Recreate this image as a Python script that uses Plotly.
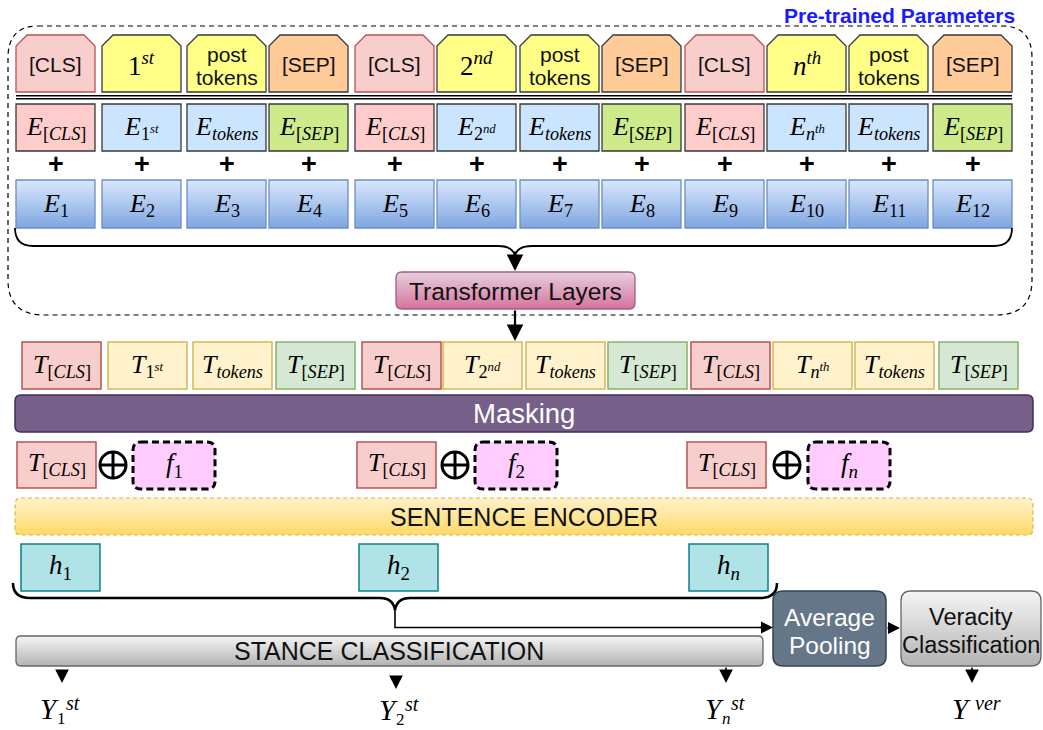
import math
import plotly.graph_objects as go

# ---------------- content (labels of the diagram) ----------------
TOKEN_KINDS = ["CLS", "ORD", "POST", "SEP"] * 3
SEGMENT_BASE = ["1", "2", "<i>n</i>"]
SEGMENT_SUFFIX = ["st", "nd", "th"]
TAG_TEXT = {"CLS": "[CLS]", "POST": "post<br>tokens", "SEP": "[SEP]"}
TOKEN_SUB = {"CLS": "[<i>CLS</i>]", "POST": "<i>tokens</i>", "SEP": "[<i>SEP</i>]"}
POSITION_IDS = [str(i) for i in range(1, 13)]
FEATURE_IDS = ["1", "2", "<i>n</i>"]
STANCE_IDS = ["1", "2", "<i>n</i>"]
PANEL_TITLE = "Pre-trained Parameters"
TRANSFORMER_LABEL = "Transformer Layers"
MASKING_LABEL = "Masking"
ENCODER_LABEL = "SENTENCE ENCODER"
STANCE_LABEL = "STANCE CLASSIFICATION"
POOLING_LABEL = ["Average", "Pooling"]
VERACITY_LABEL = ["Veracity", "Classification"]

# ---------------- styling ----------------
SANS = "Liberation Sans, Arial, sans-serif"
SERIF = "Liberation Serif, Times New Roman, serif"
TAG_STYLE = {"CLS": ("#f8cecc", "#b85450"), "ORD": ("#ffff88", "#36393d"),
             "POST": ("#ffff88", "#36393d"), "SEP": ("#ffcc99", "#36393d")}
EMB_STYLE = {"CLS": ("#ffcccc", "#36393d"), "ORD": ("#cce5ff", "#36393d"),
             "POST": ("#cce5ff", "#36393d"), "SEP": ("#cdeb8b", "#36393d")}
T_STYLE = {"CLS": ("#f8cecc", "#b85450"), "ORD": ("#fff2cc", "#d6b656"),
           "POST": ("#fff2cc", "#d6b656"), "SEP": ("#d5e8d4", "#82b366")}

W, H = 1043, 730
fig = go.Figure()
shapes = []
annots = []


def hex2rgb(c):
    c = c.lstrip("#")
    return [int(c[i:i + 2], 16) for i in (0, 2, 4)]


def lerp(c0, c1, t):
    a, b = hex2rgb(c0), hex2rgb(c1)
    return "rgb(%d,%d,%d)" % tuple(round(a[i] + (b[i] - a[i]) * t) for i in range(3))


def rr_path(x0, y0, x1, y1, r):
    if r <= 0:
        return f"M{x0},{y0} L{x1},{y0} L{x1},{y1} L{x0},{y1} Z"
    return (f"M{x0 + r},{y0} L{x1 - r},{y0} Q{x1},{y0} {x1},{y0 + r} "
            f"L{x1},{y1 - r} Q{x1},{y1} {x1 - r},{y1} L{x0 + r},{y1} "
            f"Q{x0},{y1} {x0},{y1 - r} L{x0},{y0 + r} Q{x0},{y0} {x0 + r},{y0} Z")


def box(x0, y0, x1, y1, fill, line, lw=1.3, r=0, dash=None):
    ld = dict(color=line, width=lw)
    if dash:
        ld["dash"] = dash
    shapes.append(dict(type="path", path=rr_path(x0, y0, x1, y1, r),
                       fillcolor=fill, line=ld, xref="x", yref="y"))


def grad_box(x0, y0, x1, y1, c0, c1, line, lw=1.3, r=0, n=20, dash=None):
    h = (y1 - y0) / n
    for i in range(n):
        ya = y0 + i * h
        yb = ya + h
        ym = (ya + yb) / 2
        d = 0
        if r > 0:
            if ym < y0 + r:
                dy = y0 + r - ym
                d = r - math.sqrt(max(r * r - dy * dy, 0))
            elif ym > y1 - r:
                dy = ym - (y1 - r)
                d = r - math.sqrt(max(r * r - dy * dy, 0))
        shapes.append(dict(type="rect", x0=x0 + d, x1=x1 - d, y0=ya, y1=min(yb + 1.2, y1),
                           fillcolor=lerp(c0, c1, (i + 0.5) / n), line=dict(width=0),
                           xref="x", yref="y", layer="above"))
    box(x0, y0, x1, y1, "rgba(0,0,0,0)", line, lw, r, dash)


def path(p, color="#000", lw=1.5, dash=None, fill="rgba(0,0,0,0)"):
    ld = dict(color=color, width=lw)
    if dash:
        ld["dash"] = dash
    shapes.append(dict(type="path", path=p, line=ld, fillcolor=fill, xref="x", yref="y"))


def text(x, y, s, size, color="#000", family=SANS, xanchor="center", yanchor="middle"):
    annots.append(dict(x=x, y=y, text=s, showarrow=False, xref="x", yref="y",
                       xanchor=xanchor, yanchor=yanchor,
                       font=dict(size=size, color=color, family=family)))


def arrow(xt, yt, xh, yh, lw=1.6, size=1.0, head=2):
    annots.append(dict(x=xh, y=yh, ax=xt, ay=yt, xref="x", yref="y", axref="x", ayref="y",
                       text="", showarrow=True, arrowhead=head, arrowsize=size,
                       arrowwidth=lw, arrowcolor="#000", standoff=0, startstandoff=0))


# ---------------- layout geometry ----------------
COL_X = [16, 102, 187, 269, 355, 437, 520, 602, 685, 767, 849, 933]
T_X = [22, 108, 193, 276, 362, 443, 526, 608, 691, 773, 855, 939]
CW = 79
MATH = 26

# dashed pre-trained panel
path("M38,26 L1002,26 Q1032,26 1032,58 L1032,280 Q1032,315 996,315 "
     "L44,315 Q8,315 8,280 L8,58 Q8,26 38,26 Z", color="#000", lw=1.2, dash="5px,4px")
text(1017, 15, f"<b>{PANEL_TITLE}</b>", 21, color="#1a1aff", xanchor="right")

seg = -1
for i, kind in enumerate(TOKEN_KINDS):
    if kind == "CLS":
        seg += 1
    x0 = COL_X[i]
    x1 = x0 + CW
    xc = (x0 + x1) / 2
    # chamfered tag
    fill, line = TAG_STYLE[kind]
    c = 11
    path(f"M{x0},92 L{x0},{35 + c} L{x0 + c},35 L{x1 - c},35 L{x1},{35 + c} L{x1},92 Z",
         color=line, lw=1.3, fill=fill)
    if kind == "ORD":
        text(xc, 64, f"{SEGMENT_BASE[seg]}<sup><i>{SEGMENT_SUFFIX[seg]}</i></sup>", 27,
             family=SERIF)
    elif kind == "POST":
        text(xc, 54, "post", 21, color="#111")
        text(xc, 77, "tokens", 21, color="#111")
    else:
        text(xc, 64, TAG_TEXT[kind], 21, color="#111")

    # token embedding
    fill, line = EMB_STYLE[kind]
    box(x0, 104, x1, 151, fill, line, 1.3)
    if kind == "ORD":
        sub = f"{SEGMENT_BASE[seg]}<sup><i>{SEGMENT_SUFFIX[seg]}</i></sup>"
    else:
        sub = TOKEN_SUB[kind]
    text(xc, 128, f"<i>E</i><sub>{sub}</sub>", MATH, family=SERIF)

    # plus
    text(xc, 164, "<b>+</b>", 27, family=SANS)

    # position embedding
    grad_box(x0, 180, x1, 228, "#dae8fc", "#7ea6e0", "#6c8ebf", 1.3)
    text(xc, 205, f"<i>E</i><sub>{POSITION_IDS[i]}</sub>", MATH, family=SERIF)

    # transformer outputs
    tx0 = T_X[i]
    fill, line = T_STYLE[kind]
    box(tx0, 342, tx0 + CW, 389, fill, line, 1.5)
    text(tx0 + CW / 2, 366, f"<i>T</i><sub>{sub}</sub>", MATH, family=SERIF)

# double separator line
path("M16,95.8 L1012,95.8", lw=1.6)
path("M16,98.8 L1012,98.8", lw=1.6)

# brace under embeddings + arrow into transformer
path("M15,228 Q15,246 33,246 L498,246 Q513,246 515,256 Q517,246 532,246 "
     "L994,246 Q1012,246 1012,228", lw=1.8)
arrow(515, 250, 515, 271, lw=2.2, size=1.5)

grad_box(396, 272, 635, 309, "#e6d0de", "#d5739d", "#996185", 1.3, r=6)
text(515, 291, TRANSFORMER_LABEL, 24.5, color="#111")
arrow(515, 309, 515, 341, lw=2.2, size=1.5)

# masking bar
box(15, 395, 1033, 432, "#76608a", "#432d57", 1.5, r=6)
text(524, 413, MASKING_LABEL, 27.5, color="#ffffff")

# [CLS] + feature concatenation
for k, (tx, cx, fx) in enumerate([(17, 113, 133), (357, 455, 475), (687, 787, 808)]):
    box(tx, 442, tx + 79, 488, "#f8cecc", "#b85450", 1.5)
    text(tx + 39.5, 464, "<i>T</i><sub>[<i>CLS</i>]</sub>", MATH, family=SERIF)
    shapes.append(dict(type="circle", x0=cx - 13, x1=cx + 13, y0=452, y1=478,
                       line=dict(color="#000", width=3), xref="x", yref="y"))
    path(f"M{cx - 13},465 L{cx + 13},465", lw=3)
    path(f"M{cx},452 L{cx},478", lw=3)
    box(fx, 442, fx + 82, 489, "#ffccff", "#000", 3, r=8, dash="7px,4px")
    text(fx + 41, 465, f"<i>f</i><sub>{FEATURE_IDS[k]}</sub>", 27, family=SERIF)

# sentence encoder
grad_box(15, 498, 1033, 535, "#fff2cc", "#ffd966", "#d6b656", 1.2, r=6, dash="4px,3px")
text(524, 517, ENCODER_LABEL, 25, color="#111")

# sentence representations
for k, hx in enumerate([21, 359, 689]):
    box(hx, 544, hx + 79, 591, "#b0e3e6", "#0e8088", 1.5)
    text(hx + 39.5, 567, f"<i>h</i><sub>{FEATURE_IDS[k]}</sub>", 27, family=SERIF)

# brace under h + connector to pooling
path("M13,583 Q13,598 30,598 L380,598 Q393,598 395,610 Q397,598 410,598 "
     "L760,598 Q777,598 777,583", lw=2.6)
path("M395,606 L395,627.5 L762,627.5", lw=1.6)
arrow(758, 627.5, 773, 627.5, lw=1.6, size=1.5)

# stance classification
grad_box(16, 636, 763, 666, "#f5f5f5", "#b3b3b3", "#666666", 1.3, r=5)
text(389, 651, STANCE_LABEL, 25, color="#111")

# average pooling & veracity
box(773, 591, 886, 666, "#647687", "#314354", 1.5, r=10)
text(829.5, 617, POOLING_LABEL[0], 24.5, color="#ffffff")
text(829.5, 645, POOLING_LABEL[1], 24.5, color="#ffffff")
arrow(886, 628, 900, 628, lw=1.6, size=1.5)
grad_box(901, 591, 1041, 666, "#f5f5f5", "#b3b3b3", "#666666", 1.3, r=10)
text(971, 617, VERACITY_LABEL[0], 23.5, color="#111")
text(971, 645, VERACITY_LABEL[1], 23.5, color="#111")

# outputs
arrow(62, 669, 62, 683, lw=1.6, size=1.7)
arrow(396, 675, 396, 689, lw=1.6, size=1.7)
arrow(726, 666, 726, 683, lw=1.6, size=1.7)
arrow(972, 666, 972, 683, lw=1.6, size=1.7)

for k, (yx, yy) in enumerate([(49, 709), (388, 710), (714, 709)]):
    text(yx, yy, "<i>Y</i>", 29, family=SERIF)
    text(yx + 24, yy - 6, "<i>st</i>", 20, family=SERIF)
    text(yx + 12, yy + 9, STANCE_IDS[k], 17, family=SERIF)
text(961, 709, "<i>Y</i>", 29, family=SERIF)
text(988, 703, "<i>ver</i>", 20, family=SERIF)

fig.update_layout(
    width=W, height=H, autosize=False,
    margin=dict(l=0, r=0, t=0, b=0),
    paper_bgcolor="white", plot_bgcolor="white",
    xaxis=dict(range=[0, W], visible=False, fixedrange=True),
    yaxis=dict(range=[H, 0], visible=False, fixedrange=True),
    shapes=shapes, annotations=annots, showlegend=False,
)
fig.write_html("out.html", config={"displayModeBar": False},
               post_script="document.body.style.margin='0';")
